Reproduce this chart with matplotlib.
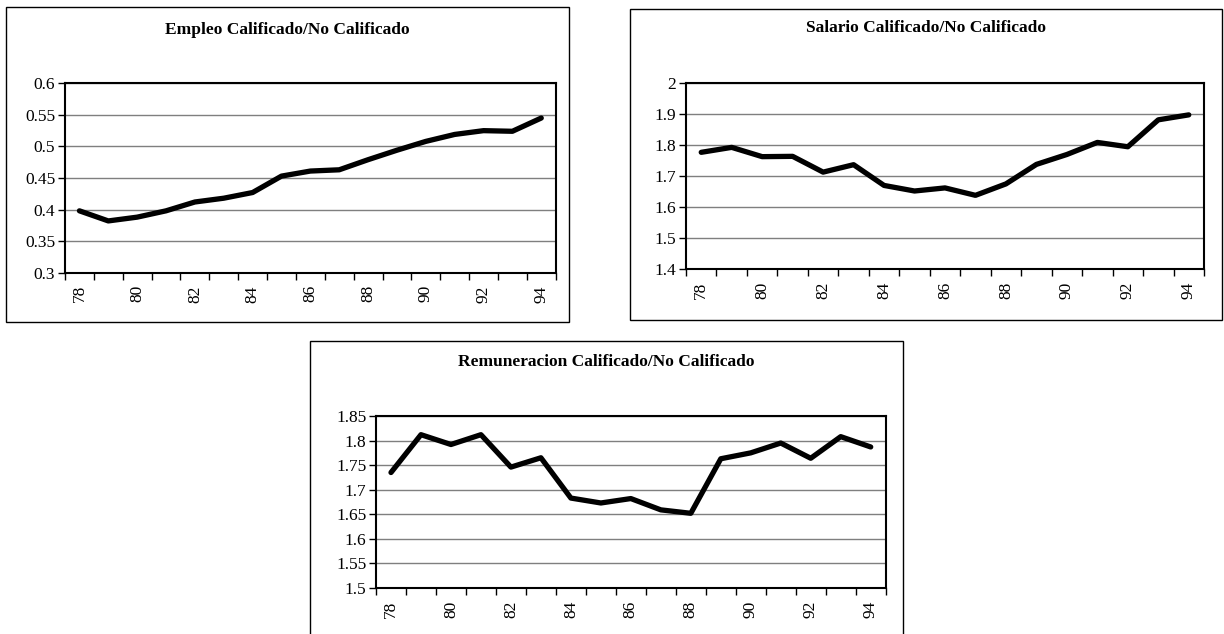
import matplotlib
matplotlib.use("Agg")
import matplotlib.pyplot as plt
from matplotlib.patches import Rectangle
from matplotlib.ticker import FixedLocator

plt.rcParams["font.family"] = ["Liberation Serif", "DejaVu Serif"]

years = ["78", "79", "80", "81", "82", "83", "84", "85", "86",
         "87", "88", "89", "90", "91", "92", "93", "94"]

empleo = [0.398, 0.382, 0.388, 0.398, 0.412, 0.418, 0.427, 0.453, 0.461,
          0.463, 0.479, 0.494, 0.508, 0.519, 0.525, 0.524, 0.545]

salario = [1.777, 1.793, 1.763, 1.764, 1.713, 1.737, 1.670, 1.652, 1.662,
           1.638, 1.675, 1.738, 1.770, 1.809, 1.795, 1.882, 1.898]

remuneracion = [1.735, 1.812, 1.792, 1.812, 1.746, 1.765, 1.683, 1.673, 1.682,
                1.659, 1.652, 1.763, 1.775, 1.795, 1.764, 1.808, 1.787]

titles = ["Empleo Calificado/No Calificado",
          "Salario Calificado/No Calificado",
          "Remuneracion Calificado/No Calificado"]

y_ticks = [
    [0.3, 0.35, 0.4, 0.45, 0.5, 0.55, 0.6],
    [1.4, 1.5, 1.6, 1.7, 1.8, 1.9, 2.0],
    [1.5, 1.55, 1.6, 1.65, 1.7, 1.75, 1.8, 1.85],
]
y_labels = [
    ["0.3", "0.35", "0.4", "0.45", "0.5", "0.55", "0.6"],
    ["1.4", "1.5", "1.6", "1.7", "1.8", "1.9", "2"],
    ["1.5", "1.55", "1.6", "1.65", "1.7", "1.75", "1.8", "1.85"],
]
series = [empleo, salario, remuneracion]

W, H = 1224, 634
fig = plt.figure(figsize=(W / 100, H / 100), dpi=100)


def px_axes(left, top, right, bottom):
    return [left / W, 1 - bottom / H, (right - left) / W, (bottom - top) / H]


def px_box(left, top, right, bottom):
    rect = Rectangle((left / W, 1 - bottom / H), (right - left) / W,
                     (bottom - top) / H, transform=fig.transFigure,
                     fill=False, edgecolor="black", linewidth=1.0)
    fig.add_artist(rect)


# panel frames (outer boxes) and plot areas in pixel units
frames = [(6, 7, 569, 322), (630, 9, 1221.5, 320), (310, 341, 902.5, 640)]
plot_areas = [(65, 83.3, 555.7, 272.7), (686, 83.3, 1204, 269),
              (376, 416, 885.7, 588)]
title_y = [29.5, 28, 362.5]

n = len(years)
x = list(range(n))

for i in range(3):
    px_box(*frames[i])
    ax = fig.add_axes(px_axes(*plot_areas[i]))
    ax.plot(x, series[i], color="black", linewidth=3.8,
            solid_joinstyle="round", solid_capstyle="round", zorder=3)
    ax.set_xlim(-0.5, n - 0.5)
    ax.set_ylim(y_ticks[i][0], y_ticks[i][-1])
    ax.set_yticks(y_ticks[i])
    ax.set_yticklabels(y_labels[i], fontsize=12.5)
    ax.yaxis.grid(True, color="#7f7f7f", linewidth=1.0)
    ax.set_axisbelow(True)

    # category boundaries carry the tick marks, labels sit at centres
    ax.xaxis.set_major_locator(FixedLocator([k - 0.5 for k in range(n + 1)]))
    ax.set_xticklabels([""] * (n + 1))
    ax.xaxis.set_minor_locator(FixedLocator(x[::2]))
    ax.set_xticklabels(years[::2], minor=True, rotation=90, fontsize=12.5)
    ax.tick_params(axis="x", which="major", length=5, width=1.0,
                   direction="out", color="black")
    ax.tick_params(axis="x", which="minor", length=0, pad=9)
    ax.tick_params(axis="y", length=5, width=1.0, direction="out", pad=2)

    for s in ax.spines.values():
        s.set_linewidth(1.5)
        s.set_color("black")

    cx = (frames[i][0] + frames[i][2]) / 2
    fig.text(cx / W, 1 - title_y[i] / H, titles[i], ha="center", va="center",
             fontsize=12.5, fontweight="bold")

fig.savefig("out.png", dpi=100)
